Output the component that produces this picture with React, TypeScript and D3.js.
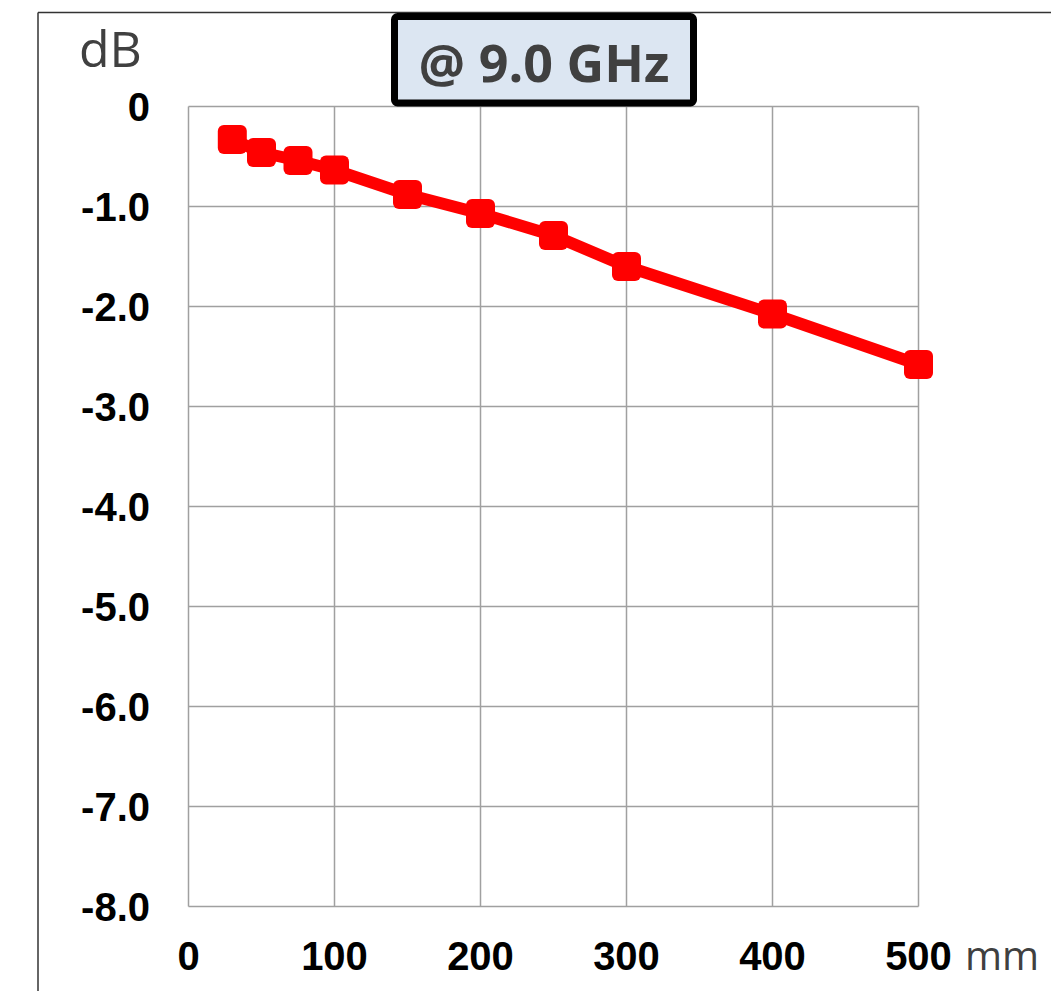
import React from "react";
import * as d3 from "d3";

const lengthsMm = [30, 50, 75, 100, 150, 200, 250, 300, 400, 500];
const lossDb = [-0.33, -0.46, -0.54, -0.635, -0.88, -1.07, -1.29, -1.6, -2.075, -2.58];
const xTicks = [0, 100, 200, 300, 400, 500];
const xTickLabels = ["0", "100", "200", "300", "400", "500"];
const yTicks = [0, -1, -2, -3, -4, -5, -6, -7, -8];
const yTickLabels = ["0", "-1.0", "-2.0", "-3.0", "-4.0", "-5.0", "-6.0", "-7.0", "-8.0"];
const titleText = "@ 9.0 GHz";
const yUnit = "dB";
const xUnit = "mm";

const W = 1051;
const H = 991;
const plot = { left: 188.5, right: 918.5, top: 106.5, bottom: 906.5 };

export default function App() {
  const x = d3.scaleLinear().domain([0, 500]).range([plot.left, plot.right]);
  const y = d3.scaleLinear().domain([0, -8]).range([plot.top, plot.bottom]);
  const pts = lengthsMm.map((v, i) => [x(v), y(lossDb[i])] as [number, number]);
  const line = d3.line()(pts) || "";
  const grid = "#a0a0a0";
  const ms = 29;
  return (
    <svg width={W} height={H} style={{ position: "absolute", left: 0, top: 0, background: "#fff" }}>
      <rect x={0} y={0} width={W} height={H} fill="#fff" />
      {/* outer frame */}
      <line x1={38} y1={12.5} x2={W} y2={12.5} stroke="#333" strokeWidth={1.5} />
      <line x1={38} y1={12.5} x2={38} y2={H} stroke="#333" strokeWidth={1.5} />
      {/* grid */}
      {xTicks.map((t) => (
        <line key={"gx" + t} x1={x(t)} x2={x(t)} y1={plot.top} y2={plot.bottom} stroke={grid} strokeWidth={1.5} />
      ))}
      {yTicks.map((t) => (
        <line key={"gy" + t} x1={plot.left} x2={plot.right} y1={y(t)} y2={y(t)} stroke={grid} strokeWidth={1.5} />
      ))}
      {/* tick labels */}
      {yTicks.map((t, i) => (
        <text key={"ty" + t} x={150} y={y(t) + 14.3} textAnchor="end" fontFamily="'Liberation Sans', Arial, sans-serif" fontWeight="bold" fontSize={40} fill="#000">
          {yTickLabels[i]}
        </text>
      ))}
      {xTicks.map((t, i) => (
        <text key={"tx" + t} x={x(t)} y={970} textAnchor="middle" fontFamily="'Liberation Sans', Arial, sans-serif" fontWeight="bold" fontSize={40} fill="#000">
          {xTickLabels[i]}
        </text>
      ))}
      <text x={79} y={67} fontFamily="'Open Sans', sans-serif" fontSize={50} fill="#404040">{yUnit}</text>
      <text x={965} y={970} fontFamily="'Open Sans', sans-serif" fontSize={40} fill="#404040">{xUnit}</text>
      {/* series */}
      <path d={line} fill="none" stroke="#ff0000" strokeWidth={12} strokeLinejoin="round" />
      {pts.map(([px, py], i) => (
        <rect key={"m" + i} x={px - ms / 2} y={py - ms / 2} width={ms} height={ms} rx={6} fill="#ff0000" />
      ))}
      {/* title box */}
      <rect x={394.5} y={16.5} width={299} height={86.5} rx={3} fill="#dce6f2" stroke="#000" strokeWidth={7} />
      <text x={544} y={82} textAnchor="middle" fontFamily="'Open Sans', sans-serif" fontWeight="bold" fontSize={52} fill="#404040">
        {titleText}
      </text>
    </svg>
  );
}
